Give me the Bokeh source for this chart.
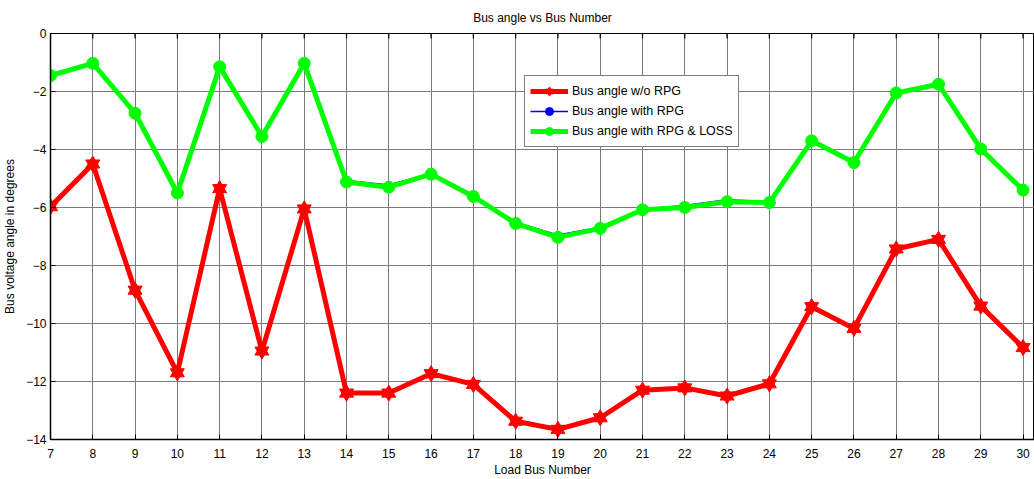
from bokeh.plotting import figure
from bokeh.models import Range1d, FixedTicker, Legend, LegendItem, Title
from bokeh.embed import file_html
from bokeh.resources import INLINE

buses = list(range(7, 31))
angle_wo_rpg = [-5.97, -4.5, -8.85, -11.7, -5.35, -10.95, -6.05, -12.4, -12.4, -11.73, -12.1, -13.37,
                -13.65, -13.25, -12.3, -12.22, -12.5, -12.08, -9.42, -10.17, -7.43, -7.1, -9.4, -10.83]
angle_with_rpg = [-1.43, -1.02, -2.72, -5.47, -1.13, -3.52, -1.01, -5.07, -5.22, -4.83, -5.6, -6.52,
                  -6.95, -6.68, -6.05, -5.93, -5.73, -5.8, -3.68, -4.43, -2.03, -1.73, -3.96, -5.38]
angle_rpg_loss = [-1.45, -1.03, -2.75, -5.5, -1.15, -3.55, -1.03, -5.12, -5.3, -4.85, -5.62, -6.55,
                  -7.03, -6.72, -6.08, -6.0, -5.8, -5.83, -3.7, -4.45, -2.05, -1.75, -3.98, -5.4]
x_ticks = list(range(7, 31))
y_ticks = [0, -2, -4, -6, -8, -10, -12, -14]

FONT = "Liberation Sans"
Y_MIN, Y_MAX = -14, 0
FRAME_H = 406

p = figure(width=1034, height=479, output_backend="svg", toolbar_location=None,
           x_range=Range1d(7, 30.27), y_range=Range1d(Y_MIN, Y_MAX),
           min_border_left=49, min_border_right=0, min_border_top=33, min_border_bottom=40,
           background_fill_color="white", border_fill_color="white")

p.title = Title(text="Bus angle vs Bus Number", align="center", text_font=FONT,
                text_font_size="12px", text_font_style="normal", text_color="black",
                vertical_align="top", standoff=14)

p.outline_line_color = "black"
p.outline_line_width = 1

for ax in (p.xaxis[0], p.yaxis[0]):
    ax.major_tick_in = 5
    ax.major_tick_out = 0
    ax.minor_tick_in = 0
    ax.minor_tick_out = 0
    ax.axis_line_color = "black"
    ax.axis_line_width = 1.5
    ax.major_tick_line_color = "black"
    ax.major_label_text_font = FONT
    ax.major_label_text_font_size = "12px"
    ax.major_label_text_color = "black"
    ax.axis_label_text_font = FONT
    ax.axis_label_text_font_size = "12px"
    ax.axis_label_text_font_style = "normal"
    ax.axis_label_text_color = "black"

p.xaxis[0].ticker = FixedTicker(ticks=x_ticks)
p.yaxis[0].ticker = FixedTicker(ticks=y_ticks)
p.xaxis[0].axis_label = "Load Bus Number"
p.yaxis[0].axis_label = "Bus voltage angle in degrees"
p.xaxis[0].major_label_standoff = 9
p.xaxis[0].axis_label_standoff = 2
p.yaxis[0].major_label_standoff = 4
p.yaxis[0].axis_label_standoff = 6

p.xgrid.ticker = FixedTicker(ticks=x_ticks)
p.ygrid.ticker = FixedTicker(ticks=y_ticks)
for g in (p.xgrid[0], p.ygrid[0]):
    g.grid_line_color = "#7a7a7a"
    g.grid_line_width = 1

# inward tick marks along the top edge of the box (MATLAB style)
tick_len = (Y_MAX - Y_MIN) * 5 / FRAME_H
p.segment(x0=x_ticks, y0=[Y_MAX] * len(x_ticks), x1=x_ticks, y1=[Y_MAX - tick_len] * len(x_ticks),
          line_color="black", line_width=1.2)

r_line = p.line(buses, angle_wo_rpg, line_color="red", line_width=5)
r_up = p.scatter(buses, angle_wo_rpg, marker="triangle", size=14, fill_color="red", line_color="red")
r_dn = p.scatter(buses, angle_wo_rpg, marker="inverted_triangle", size=14, fill_color="red", line_color="red")
b_line = p.line(buses, angle_with_rpg, line_color="blue", line_width=1.5)
b_mark = p.scatter(buses, angle_with_rpg, marker="circle", size=4, fill_color="blue", line_color="blue")
g_line = p.line(buses, angle_rpg_loss, line_color="#00ff00", line_width=5)
g_mark = p.scatter(buses, angle_rpg_loss, marker="circle", size=12, fill_color="#00ff00", line_color="#00ff00")

legend = Legend(items=[
    LegendItem(label="Bus angle w/o RPG", renderers=[r_line, r_up, r_dn]),
    LegendItem(label="Bus angle with RPG", renderers=[b_line, b_mark]),
    LegendItem(label="Bus angle with RPG & LOSS", renderers=[g_line, g_mark]),
], location=(474, 292))
legend.border_line_color = "black"
legend.border_line_width = 1.5
legend.background_fill_color = "white"
legend.background_fill_alpha = 1
legend.label_text_font = FONT
legend.label_text_font_size = "12.5px"
legend.label_text_color = "black"
legend.glyph_width = 38
legend.glyph_height = 20
legend.label_height = 20
legend.label_standoff = 4
legend.spacing = 0
legend.padding = 5
legend.margin = 0
p.add_layout(legend, "center")

open("out.html", "w").write(file_html(p, INLINE))
